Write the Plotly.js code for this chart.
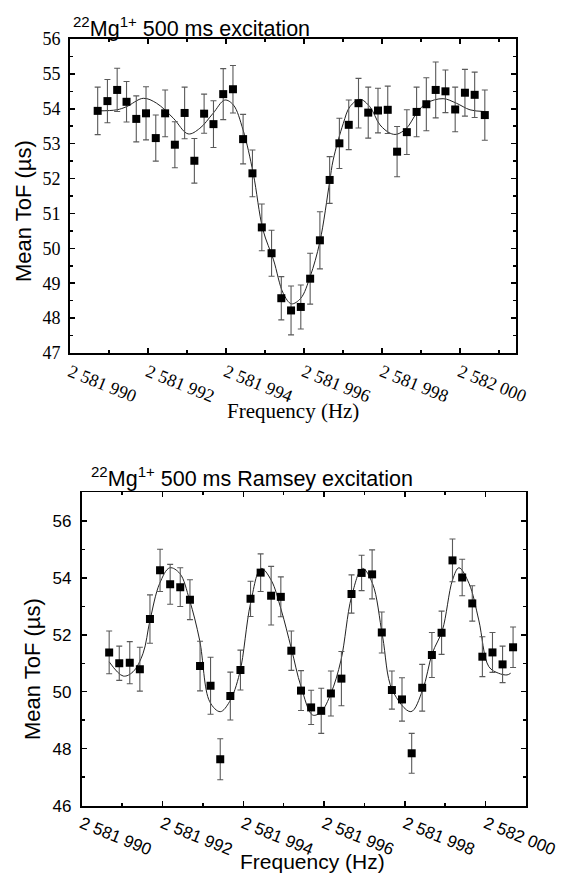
<!DOCTYPE html>
<html>
<head>
<meta charset="utf-8">
<script src="https://cdn.plot.ly/plotly-3.0.1.min.js"></script>
<style>html,body{margin:0;padding:0;background:#fff;}#chart{width:561px;height:875px;}</style>
</head>
<body>
<div id="chart"></div>
<script>
// ---------- Top panel: 500 ms excitation ----------
const freqTop = [2581990.71,2581990.96,2581991.21,2581991.45,2581991.70,2581991.95,2581992.20,2581992.44,2581992.69,2581992.94,
  2581993.19,2581993.44,2581993.68,2581993.93,2581994.18,2581994.44,2581994.68,2581994.92,2581995.17,2581995.42,
  2581995.67,2581995.92,2581996.16,2581996.41,2581996.66,2581996.91,2581997.15,2581997.40,2581997.65,2581997.90,
  2581998.15,2581998.39,2581998.64,2581998.89,2581999.14,2581999.38,2581999.63,2581999.88,2582000.13,2582000.38,2582000.64];
const tofTop = [53.94,54.22,54.54,54.20,53.71,53.87,53.16,53.87,52.97,53.88,
  52.51,53.86,53.56,54.42,54.56,53.13,52.15,50.60,49.86,48.57,
  48.22,48.32,49.13,50.23,51.96,53.01,53.54,54.16,53.89,53.95,
  53.97,52.77,53.33,53.91,54.13,54.54,54.50,53.98,54.46,54.40,53.82];
const errTop = [0.68,0.62,0.62,0.58,0.66,0.76,0.66,0.67,0.66,0.74,
  0.64,0.56,0.67,0.73,0.68,0.71,0.67,0.67,0.66,0.62,
  0.70,0.63,0.73,0.82,0.67,0.72,0.71,0.71,0.73,0.64,
  0.68,0.72,0.64,0.71,0.76,0.80,0.61,0.64,0.67,0.65,0.72];
const fitFreqTop = [2581990.71,2581991.20,2581991.45,2581991.88,2581992.22,2581992.65,2581993.03,2581993.33,2581993.67,2581993.97,
  2581994.19,2581994.44,2581994.70,2581994.95,2581995.22,2581995.47,2581995.68,2581995.92,2581996.16,2581996.41,
  2581996.66,2581996.75,2581997.01,2581997.18,2581997.44,2581997.69,2581997.95,2581998.21,2581998.38,2581998.63,
  2581998.89,2581999.14,2581999.57,2581999.91,2582000.26,2582000.64];
const fitTofTop = [53.94,53.97,54.06,54.30,54.16,53.73,53.28,53.44,53.87,54.25,
  54.11,53.39,52.15,50.53,49.67,48.71,48.41,48.57,49.19,50.19,
  51.91,52.53,53.58,54.06,54.27,54.06,53.54,53.30,53.27,53.44,
  53.87,54.16,54.29,54.16,53.97,53.92];

// ---------- Bottom panel: 500 ms Ramsey excitation ----------
const freqBot = [2581990.68,2581990.93,2581991.19,2581991.44,2581991.69,2581991.94,2581992.19,2581992.44,2581992.68,2581992.93,
  2581993.19,2581993.43,2581993.68,2581993.93,2581994.18,2581994.43,2581994.69,2581994.93,2581995.19,2581995.43,
  2581995.68,2581995.93,2581996.17,2581996.43,2581996.68,2581996.93,2581997.19,2581997.43,2581997.68,2581997.93,
  2581998.17,2581998.43,2581998.67,2581998.91,2581999.18,2581999.42,2581999.67,2581999.92,2582000.17,2582000.42,2582000.68];
const tofBot = [51.38,51.00,51.02,50.79,52.55,54.26,53.77,53.67,53.23,50.90,
  50.21,47.63,49.85,50.76,53.26,54.18,53.37,53.33,51.44,50.04,
  49.45,49.33,49.94,50.46,53.43,54.17,54.12,52.08,50.06,49.73,
  47.84,50.14,51.29,52.07,54.61,54.01,53.10,51.23,51.38,50.96,51.56];
const errBot = [0.75,0.60,0.74,0.77,0.85,0.74,0.70,0.68,0.70,0.87,
  1.00,0.72,0.84,0.70,0.62,0.66,1.03,0.70,0.69,0.70,
  0.60,0.79,0.79,0.95,0.67,0.62,0.86,0.72,0.67,0.76,
  0.70,0.82,0.79,0.76,0.75,0.64,0.62,0.70,0.70,0.64,0.71];
const fitFreqBot = [2581990.68,2581991.03,2581991.27,2581991.52,2581991.69,2581991.93,2581992.18,2581992.43,2581992.67,2581992.92,
  2581993.17,2581993.43,2581993.66,2581993.91,2581994.18,2581994.44,2581994.69,2581994.94,2581995.19,2581995.43,
  2581995.72,2581995.93,2581996.17,2581996.42,2581996.68,2581996.95,2581997.20,2581997.45,2581997.69,2581998.15,
  2581998.44,2581998.68,2581998.93,2581999.18,2581999.34,2581999.59,2581999.83,2582000.08,2582000.32,2582000.53,2582000.62];
const fitTofBot = [51.05,50.55,50.70,51.35,52.50,53.80,54.35,54.15,53.22,51.81,
  49.65,49.30,49.65,50.65,53.10,54.33,53.92,52.87,51.52,50.18,
  49.18,49.30,49.94,51.11,53.33,54.33,53.80,51.93,50.06,49.30,
  50.06,51.35,52.16,53.92,54.35,53.80,52.52,50.88,50.65,50.59,50.65];

// ---------- Tick labels ----------
const xTickVals = [2581990,2581992,2581994,2581996,2581998,2582000];
const xTickText = ['2 581 990','2 581 992','2 581 994','2 581 996','2 581 998','2 582 000'];
const yTickValsBot = [46,48,50,52,54,56];
const yTickTextBot = ['46','48','50','52','54','56'];

const W = 561, H = 875;
const px = v => v / W;
const py = v => 1 - v / H;

const serif = 'Liberation Serif, Times New Roman, serif';
const sans = 'Liberation Sans, Arial, sans-serif';

const markerStyle = {symbol: 'square', size: 8, color: '#000'};
const errStyle = (arr) => ({type: 'data', array: arr, visible: true, color: '#5a5a5a', thickness: 1.1, width: 3});

const traces = [
  {x: fitFreqTop, y: fitTofTop, type: 'scatter', mode: 'lines', line: {color: '#222', width: 1, shape: 'spline', smoothing: 1}, xaxis: 'x', yaxis: 'y', hoverinfo: 'skip'},
  {x: freqTop, y: tofTop, type: 'scatter', mode: 'markers', marker: markerStyle, error_y: errStyle(errTop), xaxis: 'x', yaxis: 'y'},
  {x: fitFreqBot, y: fitTofBot, type: 'scatter', mode: 'lines', line: {color: '#222', width: 1, shape: 'spline', smoothing: 1}, xaxis: 'x2', yaxis: 'y2', hoverinfo: 'skip'},
  {x: freqBot, y: tofBot, type: 'scatter', mode: 'markers', marker: markerStyle, error_y: errStyle(errBot), xaxis: 'x2', yaxis: 'y2'}
];

const axisCommon = {
  showline: true, linecolor: '#000', linewidth: 1.8, mirror: 'ticks',
  ticks: 'inside', ticklen: 5, tickwidth: 1.5, tickcolor: '#000',
  showgrid: false, zeroline: false, fixedrange: true
};

const layout = {
  width: W, height: H,
  margin: {l: 0, r: 0, t: 0, b: 0},
  paper_bgcolor: '#fff', plot_bgcolor: '#fff',
  showlegend: false,
  xaxis: Object.assign({}, axisCommon, {
    domain: [px(70), px(516)], anchor: 'y',
    range: [2581990, 2582001.44],
    tickmode: 'array', tickvals: xTickVals, ticktext: xTickText, tickangle: 22,
    tickfont: {family: serif, size: 18, color: '#000'},
    minor: {ticks: 'inside', ticklen: 3, tickwidth: 1.5, tickcolor: '#000', dtick: 1, tick0: 2581990}
  }),
  yaxis: Object.assign({}, axisCommon, {
    domain: [py(353), py(39)], anchor: 'x',
    range: [47, 56], dtick: 1, tick0: 47,
    tickfont: {family: serif, size: 18, color: '#000'},
    ticklabelstandoff: 4,
    minor: {ticks: 'inside', ticklen: 3, tickwidth: 1.5, tickcolor: '#000', dtick: 0.5, tick0: 47}
  }),
  xaxis2: Object.assign({}, axisCommon, {
    domain: [px(81.7), px(526)], anchor: 'y2',
    range: [2581990, 2582001],
    tickmode: 'array', tickvals: xTickVals, ticktext: xTickText, tickangle: 22,
    tickfont: {family: sans, size: 17, color: '#000'},
    minor: {ticks: 'inside', ticklen: 3, tickwidth: 1.5, tickcolor: '#000', dtick: 1, tick0: 2581990}
  }),
  yaxis2: Object.assign({}, axisCommon, {
    domain: [py(805.7), py(492.3)], anchor: 'x2',
    range: [46, 57],
    tickmode: 'array', tickvals: yTickValsBot, ticktext: yTickTextBot,
    tickfont: {family: sans, size: 17, color: '#000'},
    ticklabelstandoff: 5,
    minor: {ticks: 'inside', ticklen: 3, tickwidth: 1.5, tickcolor: '#000', dtick: 1, tick0: 46}
  }),
  annotations: [
    {text: '<sup>22</sup>Mg<sup>1+</sup> 500 ms excitation', xref: 'paper', yref: 'paper', x: px(71), y: py(27), xanchor: 'left', yanchor: 'middle', showarrow: false, font: {family: sans, size: 21.5, color: '#000'}},
    {text: 'Mean ToF (µs)', xref: 'paper', yref: 'paper', x: px(24), y: py(211), xanchor: 'center', yanchor: 'middle', textangle: -90, showarrow: false, font: {family: sans, size: 22, color: '#000'}},
    {text: 'Frequency (Hz)', xref: 'paper', yref: 'paper', x: px(293), y: py(411), xanchor: 'center', yanchor: 'middle', showarrow: false, font: {family: serif, size: 21, color: '#000'}},
    {text: '<sup>22</sup>Mg<sup>1+</sup> 500 ms Ramsey excitation', xref: 'paper', yref: 'paper', x: px(89), y: py(477), xanchor: 'left', yanchor: 'middle', showarrow: false, font: {family: sans, size: 21.5, color: '#000'}},
    {text: 'Mean ToF (µs)', xref: 'paper', yref: 'paper', x: px(32), y: py(669), xanchor: 'center', yanchor: 'middle', textangle: -90, showarrow: false, font: {family: sans, size: 22, color: '#000'}},
    {text: 'Frequency (Hz)', xref: 'paper', yref: 'paper', x: px(312), y: py(861), xanchor: 'center', yanchor: 'middle', showarrow: false, font: {family: sans, size: 21, color: '#000'}}
  ]
};

Plotly.newPlot('chart', traces, layout, {staticPlot: true, displayModeBar: false});
</script>
</body>
</html>
